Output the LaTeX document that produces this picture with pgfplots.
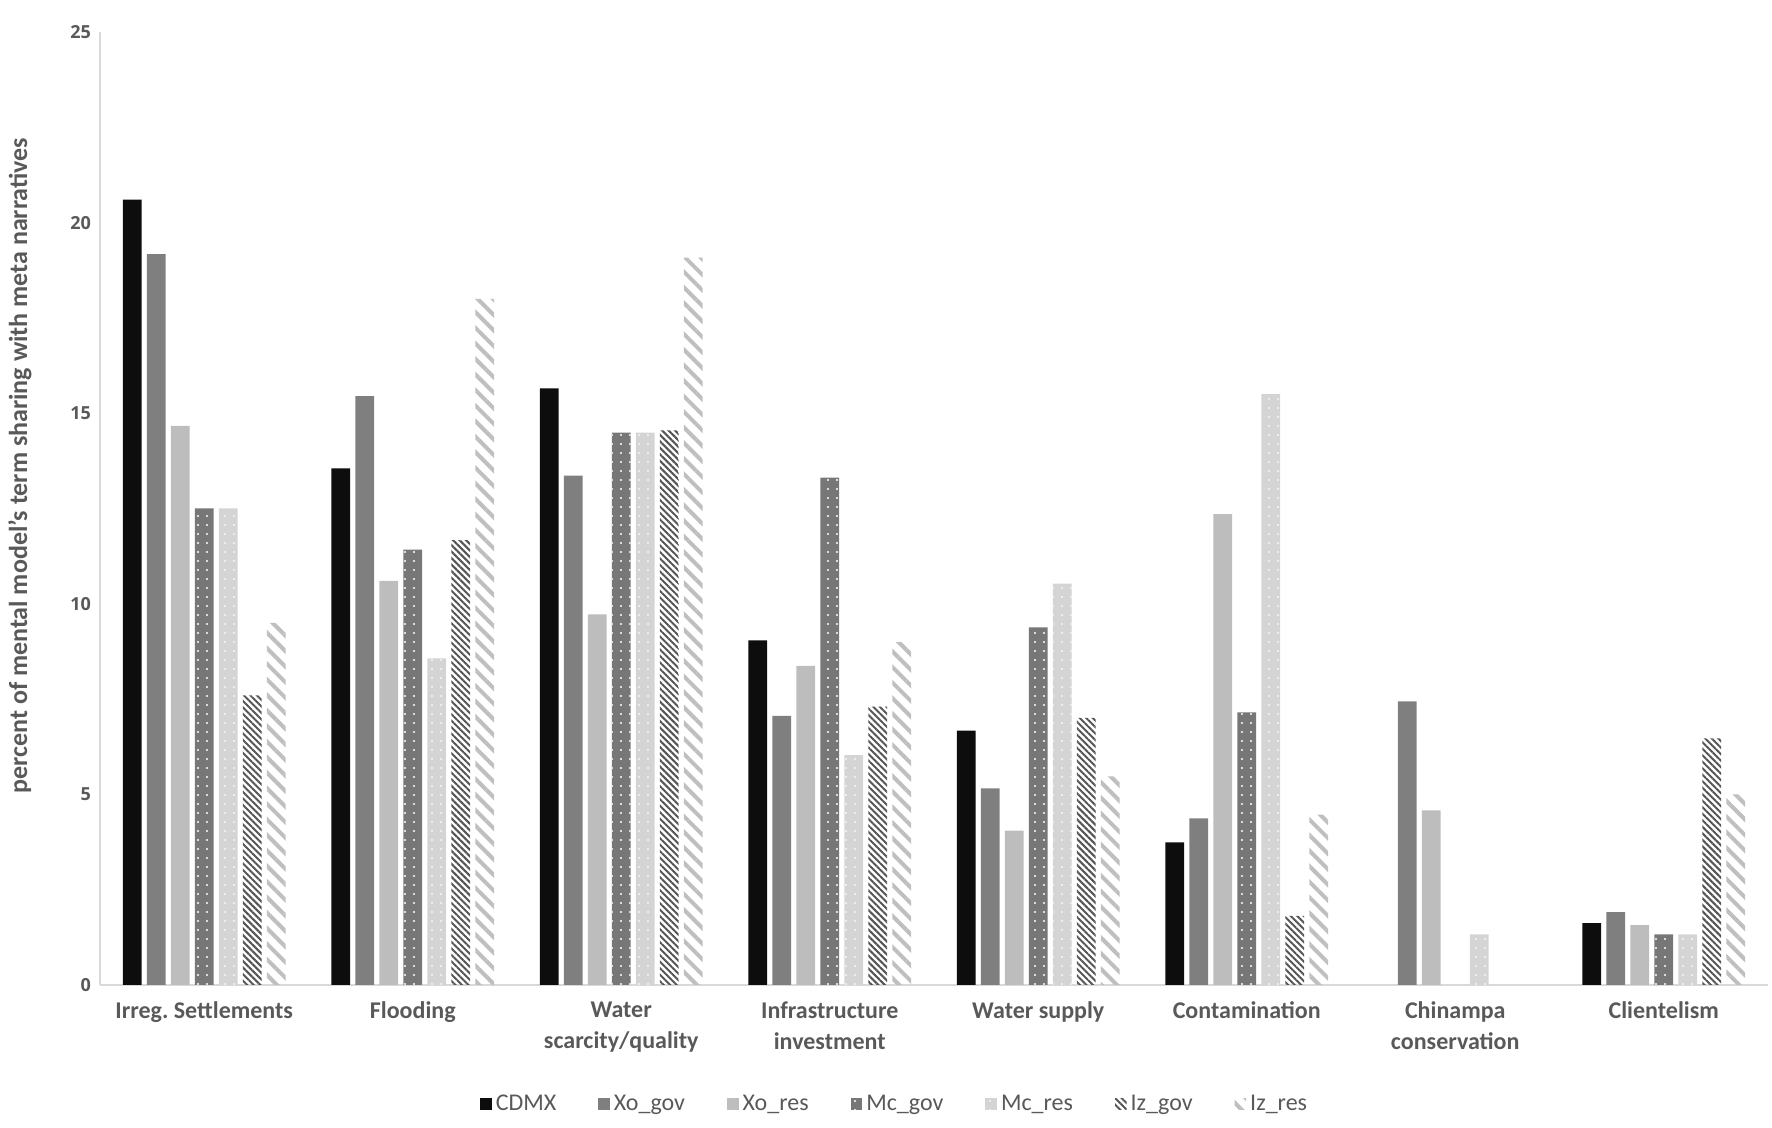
\documentclass[border=0pt]{standalone}
\usepackage{fontspec}
\setmainfont{Carlito}
\newfontfamily\tickfont{Open Sans}
\usepackage{pgfplots}
\pgfplotsset{compat=1.18}
\usetikzlibrary{patterns.meta}
\frenchspacing

\definecolor{txt}{HTML}{595959}
\definecolor{axln}{HTML}{D9D9D9}
\definecolor{cdmx}{HTML}{0D0D0D}
\definecolor{xogov}{HTML}{7F7F7F}
\definecolor{xores}{HTML}{BDBDBD}
\definecolor{mcgov}{HTML}{777777}
\definecolor{mcres}{HTML}{D4D4D4}
\definecolor{izgov}{HTML}{555555}
\definecolor{izres}{HTML}{BFBFBF}

\begin{document}
\begin{tikzpicture}
\path[use as bounding box] (-50pt,-71.5pt) rectangle (836pt,492.5pt);
\begin{axis}[
    scale only axis,
    width=834pt, height=476.5pt,
    ybar, bar width=0.09,
    xmin=-0.5, xmax=7.5,
    ymin=0, ymax=25,
    axis x line=bottom, axis y line=left,
    axis line style={draw=axln, line width=1pt, -},
    major tick length=0pt,
    xtick={0,...,7},
    xticklabels={Irreg.\ Settlements, Flooding, {Water\\scarcity/quality},
        {Infrastructure\\investment}, Water supply, Contamination,
        {Chinampa\\conservation}, Clientelism},
    xticklabel style={align=center, text=txt, yshift=-5pt,
        font=\bfseries\fontsize{12}{15.5}\selectfont},
    ytick={0,5,...,25},
    /pgf/number format/assume math mode=true,
    yticklabel style={text=txt, xshift=-1pt,
        font=\tickfont\bfseries\fontsize{9}{10}\selectfont},
    ylabel={percent of mental model's term sharing with meta narratives},
    ylabel style={at={(axis description cs:-0.048,0.545)}, anchor=center,
        text=txt, font=\bfseries\fontsize{13}{14}\selectfont},
    legend style={at={(rel axis cs:0.477,-0.125)}, anchor=center,
        draw=none, fill=none, text=txt,
        font=\fontsize{12}{13}\selectfont,
        legend columns=-1,
        /tikz/every even column/.append style={column sep=19pt}},
    legend image code/.code={\draw[#1,draw=none] (0pt,-2.9pt) rectangle (5.8pt,2.9pt);},
]
% CDMX
\addplot[fill=cdmx, draw=none, bar shift=-0.345] coordinates
    {(0,20.6) (1,13.55) (2,15.65) (3,9.04) (4,6.67) (5,3.74) (7,1.62)};
% Xo_gov
\addplot[fill=xogov, draw=none, bar shift=-0.23] coordinates
    {(0,19.17) (1,15.45) (2,13.36) (3,7.06) (4,5.16) (5,4.37) (6,7.44) (7,1.91)};
% Xo_res
\addplot[fill=xores, draw=none, bar shift=-0.115] coordinates
    {(0,14.67) (1,10.6) (2,9.72) (3,8.37) (4,4.05) (5,12.35) (6,4.58) (7,1.57)};
% Mc_gov
\addplot[fill=mcgov, draw=none, bar shift=0,
    postaction={pattern={Dots[distance=4.5pt,radius=0.55pt]}, pattern color=white}] coordinates
    {(0,12.5) (1,11.42) (2,14.49) (3,13.31) (4,9.38) (5,7.15) (7,1.33)};
% Mc_res
\addplot[fill=mcres, draw=none, bar shift=0.115,
    postaction={pattern={Dots[distance=4.5pt,radius=0.55pt]}, pattern color=white!80!mcres}] coordinates
    {(0,12.5) (1,8.57) (2,14.49) (3,6.03) (4,10.53) (5,15.5) (6,1.33) (7,1.33)};
% Iz_gov
\addplot[draw=none, bar shift=0.23,
    pattern={Lines[angle=-45,distance=2.3pt,line width=1pt]}, pattern color=izgov] coordinates
    {(0,7.6) (1,11.67) (2,14.55) (3,7.30) (4,7.01) (5,1.81) (7,6.47)};
% Iz_res
\addplot[draw=none, bar shift=0.345,
    pattern={Lines[angle=-45,distance=5.5pt,line width=2pt]}, pattern color=izres] coordinates
    {(0,9.5) (1,18.0) (2,19.08) (3,9.0) (4,5.47) (5,4.47) (7,5.0)};
\legend{CDMX, Xo\_gov, Xo\_res, Mc\_gov, Mc\_res, Iz\_gov, Iz\_res}
\end{axis}
\end{tikzpicture}
\end{document}
